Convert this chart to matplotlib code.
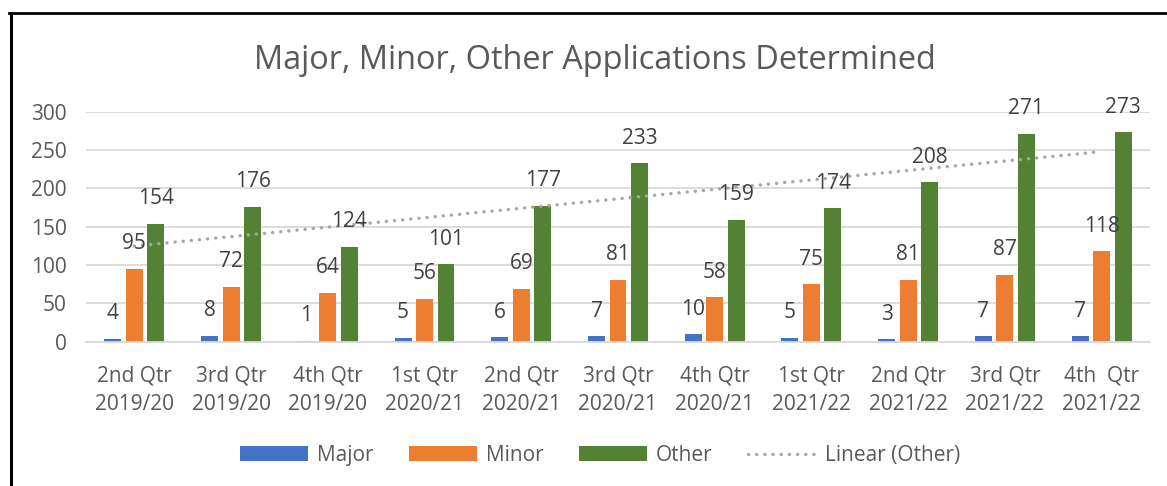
import matplotlib
matplotlib.use('Agg')
from matplotlib import pyplot as plt
from matplotlib.lines import Line2D
import numpy as np

# -- quarterly applications determined
quarters = ['2nd Qtr\n2019/20', '3rd Qtr\n2019/20', '4th Qtr\n2019/20',
            '1st Qtr\n2020/21', '2nd Qtr\n2020/21', '3rd Qtr\n2020/21',
            '4th Qtr\n2020/21', '1st Qtr\n2021/22', '2nd Qtr\n2021/22',
            '3rd Qtr\n2021/22', '4th  Qtr\n2021/22']
major = [4, 8, 1, 5, 6, 7, 10, 5, 3, 7, 7]
minor = [95, 72, 64, 56, 69, 81, 58, 75, 81, 87, 118]
other = [154, 176, 124, 101, 177, 233, 159, 174, 208, 271, 273]

plt.rcParams['font.family'] = ['Open Sans', 'DejaVu Sans']
txt = '#595959'

fig = plt.figure(figsize=(11.67, 4.86), dpi=100)
ax = fig.add_axes([0.0737, 0.2969, 0.9117, 0.4733])

x = np.arange(len(quarters))
w = 0.175
step = 0.222
handles = []
series = [(major, '#4472C4', 'Major'), (minor, '#ED7D31', 'Minor'), (other, '#548235', 'Other')]
for i, (vals, col, name) in enumerate(series):
    pos = x + (i - 1) * step
    handles.append(ax.bar(pos, vals, width=w, color=col, label=name, zorder=2))
    for px, v in zip(pos, vals):
        ax.annotate(str(v), (px, v), xytext=(0, 18), textcoords='offset points',
                    ha='center', va='center', fontsize=15, color='#404040', zorder=4)

# linear trendline on Other
k, b = np.polyfit(x, other, 1)
trend, = ax.plot(x, k * x + b, color='#A5A5A5', lw=2.4, linestyle=(0, (0.05, 2.4)),
                 dash_capstyle='round', label='Linear (Other)', zorder=3)
handles.append(trend)

ax.set_xlim(-0.5, len(quarters) - 0.5)
ax.set_ylim(0, 300)
ax.set_yticks(range(0, 301, 50))
ax.grid(axis='y', color='#D9D9D9', lw=1.3, zorder=0)
ax.set_axisbelow(True)
for s in ['top', 'right', 'left']:
    ax.spines[s].set_visible(False)
ax.spines['bottom'].set_color('#D9D9D9')
ax.spines['bottom'].set_linewidth(1.3)
ax.set_xticks(x)
ax.set_xticklabels(quarters, linespacing=1.45)
ax.tick_params(axis='both', length=0, labelsize=15, labelcolor=txt)
ax.tick_params(axis='x', pad=17)
ax.tick_params(axis='y', pad=14)

fig.text(0.51, 0.875, 'Major, Minor, Other Applications Determined',
         ha='center', va='center', fontsize=23.4, color=txt)

fig.legend(handles=handles, loc='center', bbox_to_anchor=(0.514, 0.063), ncol=4, frameon=False,
           fontsize=15, labelcolor=txt, handlelength=3.3, handleheight=0.7,
           handletextpad=0.4, columnspacing=1.7)

# chart border (top and left edges)
fig.add_artist(Line2D([9 / 1167, 1], [1 - 13 / 486, 1 - 13 / 486], color='black', lw=2, transform=fig.transFigure))
fig.add_artist(Line2D([10.5 / 1167, 10.5 / 1167], [0, 1 - 13 / 486], color='black', lw=2.2, transform=fig.transFigure))

plt.savefig('out.png', dpi=100)
